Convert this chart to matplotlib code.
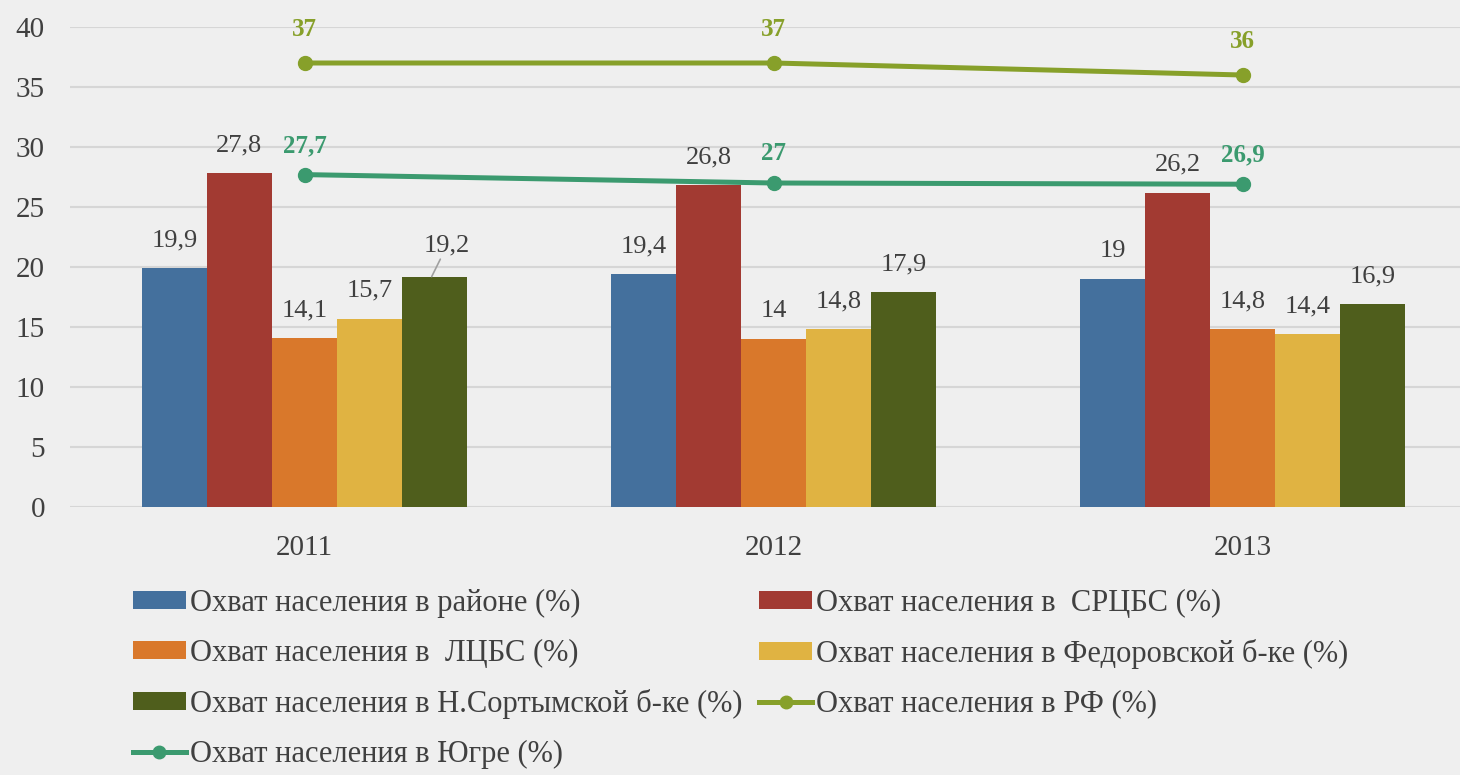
import matplotlib
matplotlib.use("Agg")
import matplotlib.pyplot as plt
from matplotlib.lines import Line2D
from matplotlib.patches import Patch
import numpy as np

years = ["2011", "2012", "2013"]
bar_names = ["Охват населения в районе (%)",
             "Охват населения в  СРЦБС (%)",
             "Охват населения в  ЛЦБС (%)",
             "Охват населения в Федоровской б-ке (%)",
             "Охват населения в Н.Сортымской б-ке (%)"]
rayon = [19.9, 19.4, 19.0]
srcbs = [27.8, 26.8, 26.2]
lcbs = [14.1, 14.0, 14.8]
fedorov = [15.7, 14.8, 14.4]
nsortym = [19.2, 17.9, 16.9]
line_names = ["Охват населения в РФ (%)", "Охват населения в Югре (%)"]
rf = [37, 37, 36]
yugra = [27.7, 27, 26.9]
yticks = [0, 5, 10, 15, 20, 25, 30, 35, 40]

bar_series = [rayon, srcbs, lcbs, fedorov, nsortym]
bar_colors = ["#44709d", "#a23a32", "#d9782b", "#e0b342", "#4f5e1c"]
line_colors = ["#87a02a", "#3b9a6f"]
txt = "#404040"
bg = "#efefef"

plt.rcParams['font.family'] = ['Liberation Serif', 'DejaVu Serif']

fig = plt.figure(figsize=(14.6, 7.75), dpi=100, facecolor=bg)
ax = fig.add_axes([70/1460, 1-507/775, 1407/1460, 480/775])
ax.set_facecolor(bg)

x = np.arange(len(years))
bw = 0.1386
fmt = lambda v: (f"{v:g}").replace(".", ",")
for i, (vals, col) in enumerate(zip(bar_series, bar_colors)):
    xs = x + (i - 2) * bw
    ax.bar(xs, vals, width=bw, color=col, zorder=2)
    for j, (xx, v) in enumerate(zip(xs, vals)):
        if i == 4 and j == 0:
            ax.annotate(fmt(v), xy=(xx - 0.006, v), xytext=(xx + 0.027, v + 2.6),
                        ha='center', va='center', fontsize=19, color=txt,
                        arrowprops=dict(arrowstyle='-', color='#a0a0a0', lw=1.2,
                                        shrinkA=0, shrinkB=0))
        else:
            ax.annotate(fmt(v), xy=(xx, v), xytext=(0, 20), textcoords='offset points',
                        ha='center', va='center', fontsize=19, color=txt)

for vals, col, off in zip([rf, yugra], line_colors, [24, 21]):
    ax.plot(x, vals, color=col, lw=3.6, marker='o', ms=10, zorder=3)
    for xx, v in zip(x, vals):
        ax.annotate(fmt(v), xy=(xx, v), xytext=(0, off), textcoords='offset points',
                    ha='center', va='center', fontsize=18, color=col, fontweight='bold')

ax.set_xlim(-0.5, 2.5)
ax.set_ylim(0, 40)
ax.set_yticks(yticks)
ax.set_xticks(x)
ax.set_xticklabels(years)
ax.tick_params(axis='both', length=0, labelsize=21, labelcolor=txt)
ax.tick_params(axis='y', pad=18)
ax.tick_params(axis='x', pad=20)
ax.grid(axis='y', color='#d6d6d6', lw=1.5, zorder=0)
for s in ax.spines.values():
    s.set_visible(False)

bar_h = [Patch(facecolor=c) for c in bar_colors]
line_h = [Line2D([0], [0], color=c, lw=3.6, marker='o', ms=9) for c in line_colors]
handles = [bar_h[0], bar_h[2], bar_h[4], line_h[1], bar_h[1], bar_h[3], line_h[0]]
labels = [bar_names[0], bar_names[2], bar_names[4], line_names[1],
          bar_names[1], bar_names[3], line_names[0]]
leg = fig.legend(handles, labels, ncol=2, loc='upper left',
                 bbox_to_anchor=(133/1460, 1-589/775), frameon=False,
                 fontsize=22, handlelength=1.73, handleheight=0.52, handletextpad=0.13,
                 columnspacing=0.56, labelspacing=0.68, borderpad=0, borderaxespad=0)
for t in leg.get_texts():
    t.set_color(txt)

fig.savefig("out.png", dpi=100, facecolor=bg)
